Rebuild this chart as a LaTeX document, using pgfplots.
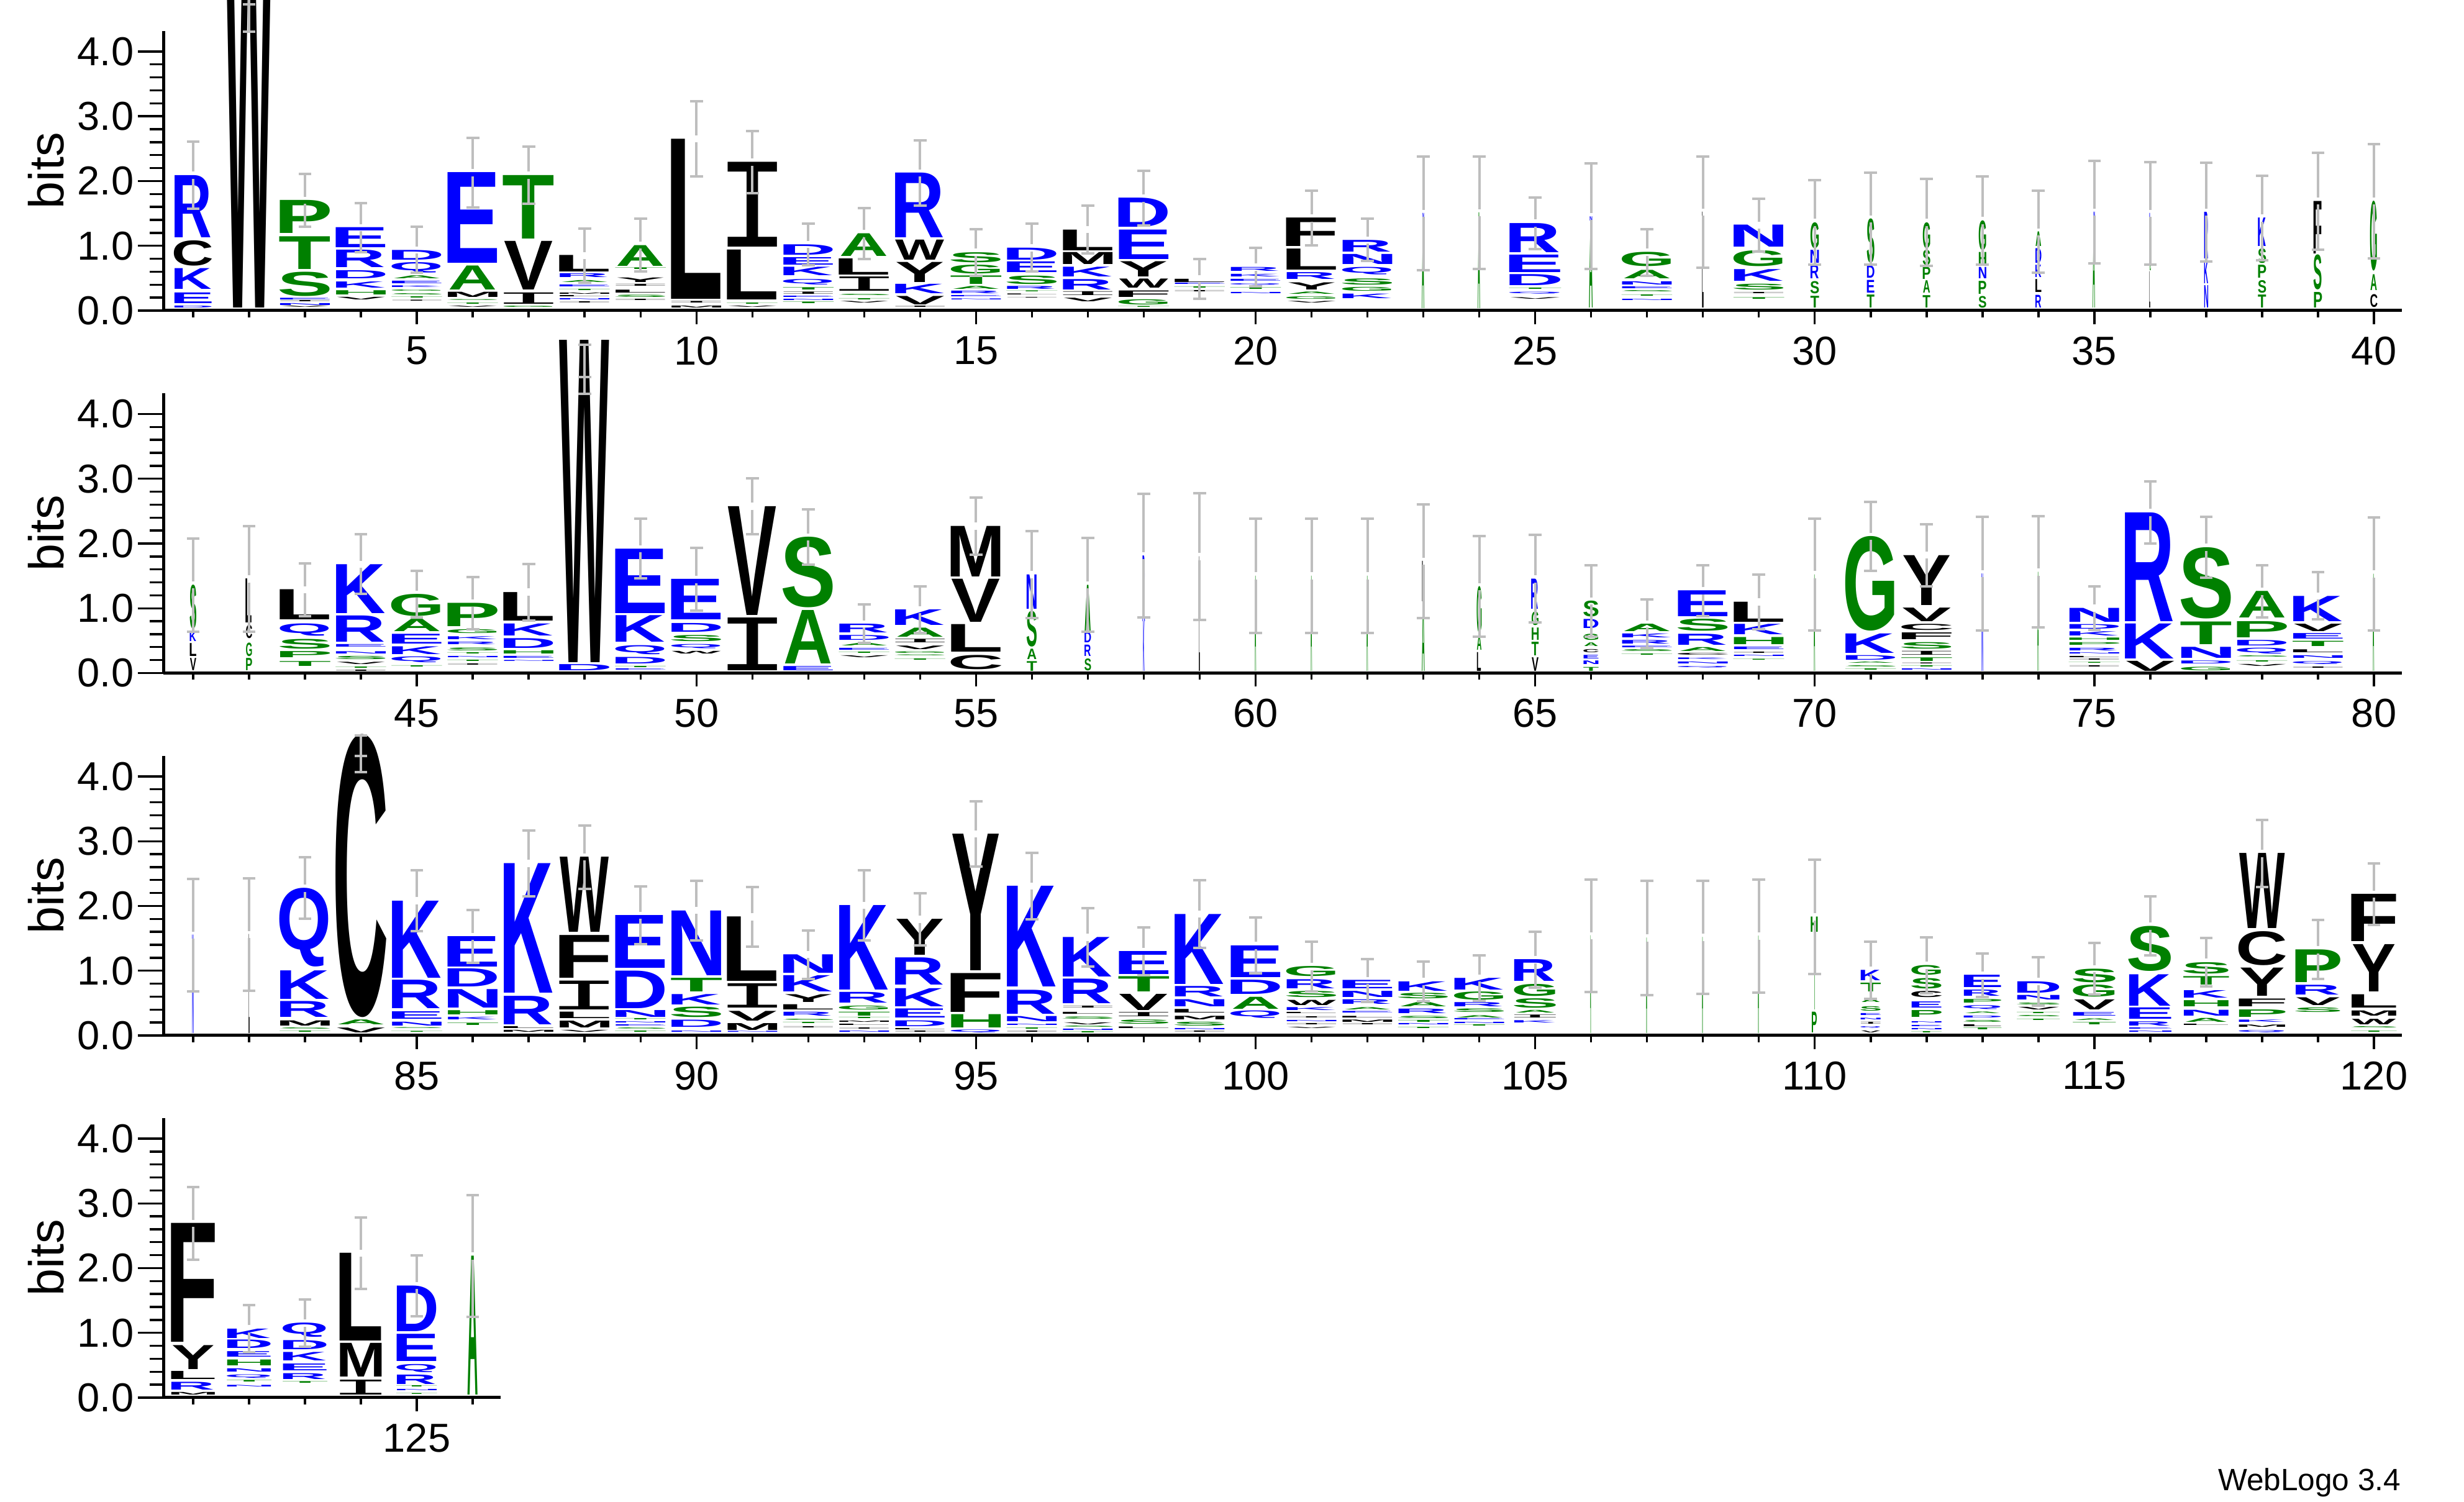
\documentclass[border=0pt]{standalone}
\usepackage{graphicx}
\usepackage{fontspec}
\setmainfont{Liberation Sans}
\newfontfamily\ifont{Liberation Mono}
\usepackage{pgfplots}
\usepackage{pgfplotstable}
\pgfplotsset{compat=1.18}
\definecolor{lblue}{RGB}{0,0,255}
\definecolor{lgreen}{RGB}{0,128,0}
\definecolor{lblack}{RGB}{0,0,0}
\definecolor{errgray}{RGB}{190,190,190}
\newcommand\defL[5][\bfseries]{\expandafter\def\csname lf@#2\endcsname{#1}\expandafter\def\csname lc@#2\endcsname{#3}\expandafter\def\csname ll@#2\endcsname{#4}\expandafter\def\csname lr@#2\endcsname{#5}}
\defL{A}{lgreen}{0}{0}\defL{C}{lblack}{.05}{.04}\defL{D}{lblue}{.07}{.04}\defL{E}{lblue}{.07}{.04}
\defL{F}{lblack}{.07}{.04}\defL{G}{lgreen}{.05}{.05}\defL{H}{lgreen}{.07}{.07}\defL[\ifont]{I}{lblack}{.1}{.1}
\defL{K}{lblue}{.07}{0}\defL{L}{lblack}{.07}{.03}\defL{M}{lblack}{.07}{.07}\defL{N}{lblue}{.07}{.07}
\defL{P}{lgreen}{.07}{.04}\defL{Q}{lblue}{.05}{.03}\defL{R}{lblue}{.07}{0}\defL{S}{lgreen}{.04}{.04}
\defL{T}{lgreen}{.02}{.02}\defL{V}{lblack}{0}{0}\defL{W}{lblack}{0}{0}\defL{Y}{lblack}{0}{0}
\newcommand\logoL[3]{\pgfmathsetlengthmacro\lw{#2*19.75pt}\pgfmathsetlengthmacro\lh{#3*26.06pt}%
\textcolor{\csname lc@#1\endcsname}{\resizebox*{\lw}{\lh}{\csname lf@#1\endcsname\kern-\csname ll@#1\endcsname em #1\kern-\csname lr@#1\endcsname em}}}
\pgfplotsset{logorow/.style={
 set layers=standard,
 scale only axis, width=#1, height=112.6pt, anchor=south west, clip=false,
 ymin=0, ymax=4.32, ytick={0,1,2,3,4}, minor y tick num=4,
 axis y line*=left, axis x line*=bottom, axis line style={-,line width=1.25pt},
 tick align=outside, major tick length=5.5pt, minor tick length=2.75pt,
 major y tick style={black,line width=.85pt,/pgfplots/major tick length=10.25pt},
 minor y tick style={black,line width=.85pt,/pgfplots/minor tick length=5.5pt},
 major x tick style={black,line width=.85pt},
 minor x tick style={black,line width=.85pt},
 y tick label style={/pgf/number format/.cd,fixed,fixed zerofill,precision=1,assume math mode=true,/tikz/.cd,font=\fontsize{16.25}{16.25}\selectfont,inner sep=0pt,xshift=-6.25pt},
 x tick label style={/pgf/number format/assume math mode=true,font=\fontsize{16.25}{16.25}\selectfont,inner sep=0pt,yshift=-4.75pt},
 ylabel={bits},
 every axis y label/.style={at={(axis description cs:0,0.5)},xshift=-40.25pt,rotate=90,anchor=base,font=\fontsize{19.75}{19.75}\selectfont},
},
barline/.style={on layer=axis foreground,draw=none,mark=none,forget plot,error bars/.cd,y dir=#1,y explicit,error mark=none,
  error bar style={color=errgray,line width=1pt}},
barcap/.style={on layer=axis foreground,only marks,mark=-,mark size=2.6pt,color=errgray,forget plot,mark options={color=errgray,line width=1pt}}}
\pgfplotsset{xticks/.style={}}
\newcommand\drawlogo[3]{%
 \addplot[only marks,mark=none,point meta=explicit symbolic,
  visualization depends on={\thisrow{w} \as \ww},
  visualization depends on={\thisrow{t}-\thisrow{b} \as \hh},
  nodes near coords={\logoL{\pgfplotspointmeta}{\ww}{\hh}},
  every node near coord/.append style={inner sep=0pt,outer sep=0pt}]
  table[x=x,y=b,meta=l]{#1};
 \addplot[barline=plus] table[x=x,y expr=\thisrow{c}+0.055,y error expr=\thisrow{e}-0.055]{#2};
 \addplot[barline=minus] table[x=x,y expr=\thisrow{c}-0.055,y error expr=\thisrow{e}-0.055]{#2};
 \addplot[barcap] table[x=x,y expr=\thisrow{c}+\thisrow{e}]{#2};
 \addplot[barcap] table[x=x,y expr=\thisrow{c}-\thisrow{e}]{#2};
 \addplot[barline=both] table[x=x,y=c,y error=e]{#3};
 \addplot[barcap] table[x=x,y expr=\thisrow{c}+\thisrow{e}]{#3};
 \addplot[barcap] table[x=x,y expr=\thisrow{c}-\thisrow{e}]{#3};
}
\pgfplotstableread{
x w b t l
1 .75 .04 .07 D
1 .75 .11 .275 E
1 .75 .33 .65 K
1 .75 .69 1.08 C
1 .75 1.13 2.09 R
2 1.02 .04 7.4 W
3 1 .04 .06 V
3 1 .08 .11 N
3 1 .125 .145 I
3 1 .165 .19 E
3 1 .22 .595 S
3 1 .635 1.14 T
3 1 1.19 1.7 P
4 1 .17 .21 V
4 1 .245 .31 H
4 1 .345 .44 K
4 1 .495 .62 D
4 1 .665 .935 R
4 1 .97 1.28 E
5 1 .14 .155 I
5 1 .185 .205 T
5 1 .235 .255 S
5 1 .29 .31 G
5 1 .35 .375 K
5 1 .42 .46 E
5 1 .495 .54 A
5 1 .58 .74 Q
5 1 .785 .935 D
6 1 .04 .06 V
6 1 .095 .115 T
6 1 .15 .165 S
6 1 .21 .29 M
6 1 .32 .69 A
6 1 .73 2.13 E
7 1 .04 .06 G
7 1 .1 .275 I
7 1 .32 1.07 V
7 1 1.11 2.09 T
8 1 .11 .13 I
8 1 .155 .175 N
8 1 .205 .225 L
8 1 .24 .26 M
8 1 .3 .32 T
8 1 .365 .395 E
8 1 .435 .465 A
8 1 .51 .57 R
8 1 .595 .85 L
9 1 .145 .165 I
9 1 .2 .235 S
9 1 .275 .32 L
9 1 .37 .4 I
9 1 .44 .51 Y
9 1 .635 .66 T
9 1 .69 1.01 A
10 1 .04 .07 M
10 1 .11 .135 I
10 1 .18 2.65 L
11 1 .04 .06 V
11 1 .095 .115 T
11 1 .165 .935 L
11 1 .98 2.29 I
12 1 .1 .125 T
12 1 .145 .165 N
12 1 .195 .215 E
12 1 .25 .285 I
12 1 .32 .355 T
12 1 .4 .485 Q
12 1 .54 .67 K
12 1 .705 .82 E
12 1 .86 1.02 D
13 1 .11 .135 V
13 1 .16 .18 T
13 1 .225 .245 S
13 1 .3 .52 I
13 1 .555 .805 L
13 1 .84 1.19 A
14 1 .04 .06 I
14 1 .095 .225 V
14 1 .26 .405 K
14 1 .44 .75 Y
14 1 .785 1.095 W
14 1 1.125 2.125 R
15 1 .16 .175 N
15 1 .21 .23 E
15 1 .26 .3 R
15 1 .33 .375 A
15 1 .405 .535 T
15 1 .57 .705 G
15 1 .745 .9 S
16 1 .18 .19 I
16 1 .235 .25 L
16 1 .285 .3 T
16 1 .33 .375 R
16 1 .405 .535 S
16 1 .585 .75 E
16 1 .785 .97 D
17 1 .135 .19 V
17 1 .23 .29 I
17 1 .325 .485 R
17 1 .52 .67 K
17 1 .71 .895 M
17 1 .93 1.25 L
18 1 .04 .055 T
18 1 .085 .165 G
18 1 .21 .31 F
18 1 .345 .485 W
18 1 .525 .76 Y
18 1 .795 1.25 E
18 1 1.285 1.735 D
19 1 .28 .3 I
19 1 .34 .36 T
19 1 .395 .415 E
19 1 .44 .49 L
20 1 .255 .275 N
20 1 .325 .35 T
20 1 .385 .41 Q
20 1 .455 .485 E
20 1 .52 .56 K
20 1 .61 .67 R
21 1 .11 .135 V
21 1 .175 .215 G
21 1 .25 .285 A
21 1 .32 .43 Y
21 1 .48 .585 R
21 1 .625 .95 L
21 1 .99 1.43 F
22 1 .185 .255 K
22 1 .3 .36 G
22 1 .4 .495 S
22 1 .555 .67 Q
22 1 .715 .87 N
22 1 .91 1.09 R
23 .05 .03 1.4 A
23 .03 1.42 1.5 N
24 .05 .03 1.51 A
25 1.03 .175 .2 V
25 1.03 .25 .28 Q
25 1.03 .32 .34 T
25 1.03 .385 .555 D
25 1.03 .59 .86 E
25 1.03 .9 1.35 R
26 .08 .04 1.36 A
26 .05 1.39 1.455 N
27 1 .15 .17 N
27 1 .215 .235 T
27 1 .285 .305 S
27 1 .34 .37 E
27 1 .4 .45 N
27 1 .495 .625 A
27 1 .68 .9 G
28 .03 .04 1.52 L
29 1 .175 .2 T
29 1 .255 .275 I
29 1 .32 .41 S
29 1 .455 .635 K
29 1 .68 .925 G
29 1 .98 1.32 N
30 .17 .04 .22 T
30 .17 .26 .45 S
30 .17 .49 .7 R
30 .17 .73 .93 N
30 .17 .96 1.36 G
31 .15 .04 .24 T
31 .15 .27 .465 E
31 .15 .5 .69 D
31 .15 .73 1.415 S
32 .15 .04 .23 T
32 .15 .27 .46 A
32 .15 .485 .67 P
32 .15 .7 .93 S
32 .15 .96 1.36 G
33 .15 .04 .22 S
33 .15 .255 .455 P
33 .15 .495 .67 N
33 .15 .7 .895 H
33 .15 .93 1.39 G
34 .12 .04 .235 R
34 .12 .28 .48 L
34 .12 .51 .7 K
34 .12 .735 .96 D
34 .12 .99 1.215 A
35 .05 .04 1.42 A
35 .03 1.44 1.52 N
36 .02 .04 .6 L
36 .03 .62 .7 G
36 .02 .72 1.5 N
37 .08 .04 .385 N
37 .08 .415 .77 K
37 .08 .8 1.52 R
38 .16 .04 .24 T
38 .16 .27 .465 S
38 .16 .5 .7 P
38 .16 .735 .96 S
38 .16 .99 1.43 K
39 .16 .04 .28 P
39 .16 .32 .86 S
39 .16 .88 1.69 F
40 .14 .05 .25 C
40 .14 .31 .555 A
40 .14 .61 1.69 G
}\rowa
\pgfplotstableread{
x c e
1 2.09 .52
3 1.7 .41
4 1.28 .38
5 .935 .355
6 2.13 .54
7 2.09 .44
8 .85 .42
9 1.01 .41
10 2.65 .58
11 2.29 .48
12 1.02 .32
13 1.19 .39
14 2.125 .505
15 .9 .36
16 .97 .37
17 1.25 .37
18 1.735 .425
19 .49 .31
20 .67 .295
21 1.43 .42
22 1.09 .325
23 1.5 .875
24 1.51 .87
25 1.35 .4
26 1.455 .815
27 .9 .36
28 1.52 .86
29 1.32 .405
30 1.36 .65
31 1.415 .71
32 1.36 .67
33 1.39 .68
34 1.215 .635
35 1.52 .79
36 1.5 .79
37 1.52 .76
38 1.43 .65
39 1.69 .75
40 1.69 .88
}\erra
\pgfplotstableread{
x c e
2 4.52 .21
2 4.8 .07
}\plaina
\pgfplotstableread{
x w b t l
41 .13 .035 .225 V
41 .13 .26 .46 L
41 .13 .49 .64 K
41 .13 .68 1.36 S
42 .12 .035 .225 P
42 .12 .26 .47 G
42 .12 .53 .735 C
42 .12 .775 1.455 L
43 1 .11 .185 T
43 1 .24 .335 P
43 1 .375 .525 S
43 1 .575 .765 Q
43 1 .82 1.285 L
44 1 .02 .04 I
44 1 .07 .09 T
44 1 .13 .165 V
44 1 .21 .26 S
44 1 .3 .335 N
44 1 .4 .44 E
44 1 .48 .885 R
44 1 .925 1.68 K
45 1 .09 .11 T
45 1 .165 .255 Q
45 1 .29 .41 K
45 1 .45 .6 E
45 1 .64 .83 A
45 1 .88 1.22 G
46 1 .12 .14 I
46 1 .175 .195 T
46 1 .23 .25 N
46 1 .29 .31 T
46 1 .345 .39 S
46 1 .44 .48 R
46 1 .52 .565 K
46 1 .61 .67 G
46 1 .72 1.08 P
47 1 .175 .19 N
47 1 .23 .26 E
47 1 .295 .345 H
47 1 .385 .535 D
47 1 .575 .76 K
47 1 .81 1.25 L
48 1.02 .035 .13 D
48 1.02 .165 5.14 W
49 1 .035 .055 E
49 1 .08 .1 T
49 1 .14 .24 D
49 1 .29 .43 Q
49 1 .48 .89 K
49 1 .925 1.92 E
50 1 .3 .34 W
50 1 .375 .44 Q
50 1 .49 .585 S
50 1 .63 .765 D
50 1 .82 1.445 E
51 1 .035 .85 I
51 1 .895 2.575 V
52 1 .035 .1 E
52 1 .145 .97 A
52 1 1.01 2.1 S
53 1 .24 .27 V
53 1 .3 .32 T
53 1 .35 .38 E
53 1 .42 .46 A
53 1 .505 .58 D
53 1 .625 .76 R
54 1 .19 .21 T
54 1 .255 .27 S
54 1 .295 .32 G
54 1 .36 .415 V
54 1 .465 .52 I
54 1 .56 .7 A
54 1 .74 .98 K
55 1 .05 .27 C
55 1 .325 .75 L
55 1 .79 1.455 V
55 1 1.49 2.27 M
56 .2 .03 .18 T
56 .2 .215 .375 A
56 .2 .405 .955 S
56 .2 .99 1.52 N
57 .13 .04 .225 S
57 .13 .255 .43 R
57 .13 .465 .625 D
57 .13 .655 1.36 A
58 .03 .03 .8 K
58 .05 .8 1.815 R
59 .02 .03 1.8 L
60 .03 .03 1.5 A
61 .03 .03 1.5 A
62 .03 .03 1.5 A
63 .06 .03 1.08 A
63 .05 1.1 1.725 L
64 .08 .03 .32 L
64 .1 .35 .575 A
64 .1 .61 1.335 G
65 .14 .03 .24 V
65 .14 .27 .48 T
65 .14 .51 .7 H
65 .14 .735 .945 G
65 .14 .99 1.455 R
66 .3 .03 .09 T
66 .3 .13 .185 N
66 .3 .225 .28 E
66 .3 .32 .37 C
66 .3 .41 .465 A
66 .3 .505 .6 G
66 .3 .69 .83 D
66 .3 .865 1.11 S
67 1 .27 .29 T
67 1 .33 .36 S
67 1 .385 .41 E
67 1 .455 .51 R
67 1 .55 .61 K
67 1 .645 .76 A
68 1 .07 .095 Q
68 1 .135 .165 N
68 1 .205 .23 K
68 1 .27 .3 C
68 1 .34 .4 A
68 1 .43 .6 R
68 1 .645 .83 S
68 1 .87 1.27 E
69 1 .185 .2 T
69 1 .245 .265 N
69 1 .3 .32 I
69 1 .36 .4 E
69 1 .44 .55 H
69 1 .59 .75 K
69 1 .79 1.1 L
70 .03 .03 1.52 A
71 1 .04 .06 T
71 1 .09 .11 S
71 1 .145 .165 A
71 1 .2 .27 D
71 1 .31 .61 K
71 1 .65 2.11 G
72 1 .04 .06 N
72 1 .09 .11 T
72 1 .135 .15 I
72 1 .185 .24 T
72 1 .28 .34 I
72 1 .375 .475 S
72 1 .52 .625 F
72 1 .665 .76 C
72 1 .8 1.01 V
72 1 1.05 1.82 Y
73 .03 .03 1.535 N
74 .03 .03 1.56 A
75 1 .085 .105 I
75 1 .14 .155 T
75 1 .19 .21 I
75 1 .235 .255 L
75 1 .29 .31 N
75 1 .345 .385 R
75 1 .43 .47 P
75 1 .505 .54 H
75 1 .58 .645 K
75 1 .68 .75 D
75 1 .785 1 N
76 1 .03 .185 V
76 1 .225 .765 K
76 1 .8 2.48 R
77 1 .04 .095 G
77 1 .145 .19 D
77 1 .23 .4 N
77 1 .44 .79 T
77 1 .84 1.94 S
78 1 .1 .13 V
78 1 .165 .185 T
78 1 .235 .255 S
78 1 .295 .385 Q
78 1 .42 .505 D
78 1 .55 .8 P
78 1 .85 1.26 A
79 1 .07 .09 I
79 1 .13 .175 Q
79 1 .23 .27 N
79 1 .315 .36 L
79 1 .41 .49 T
79 1 .53 .615 E
79 1 .645 .76 V
79 1 .8 1.19 K
80 .03 .03 1.53 A
}\rowb
\pgfplotstableread{
x c e
41 1.36 .72
42 1.455 .815
43 1.285 .41
44 1.68 .46
45 1.22 .36
46 1.08 .405
47 1.25 .435
49 1.92 .46
50 1.445 .485
51 2.575 .435
52 2.1 .43
53 .76 .295
54 .98 .36
55 2.27 .44
56 1.52 .67
57 1.36 .725
58 1.815 .955
59 1.8 .98
60 1.5 .88
61 1.5 .88
62 1.5 .88
63 1.725 .875
64 1.335 .775
65 1.455 .675
66 1.11 .55
67 .76 .375
68 1.27 .39
69 1.1 .42
70 1.52 .86
71 2.11 .53
72 1.82 .48
73 1.535 .875
74 1.56 .86
75 1 .335
76 2.48 .48
77 1.94 .47
78 1.26 .4
79 1.19 .365
80 1.53 .87
}\errb
\pgfplotstableread{
x c e
48 4.44 .13
48 4.82 .25
}\plainb
\pgfplotstableread{
x w b t l
81 .03 .03 1.55 N
82 .02 .03 1.56 L
83 1 .045 .065 T
83 1 .09 .11 S
83 1 .15 .23 M
83 1 .28 .525 R
83 1 .56 1 K
83 1 1.06 2.275 Q
84 1 .04 .115 V
84 1 .165 .24 A
84 1 .285 4.655 C
85 1 .04 .055 T
85 1 .095 .11 S
85 1 .15 .21 N
85 1 .25 .365 E
85 1 .415 .855 R
85 1 .89 2.08 K
86 1 .16 .195 T
86 1 .24 .28 K
86 1 .325 .39 H
86 1 .43 .715 N
86 1 .75 1.03 D
86 1 1.06 1.53 E
87 1 .05 .08 M
87 1 .105 .135 L
87 1 .17 .61 R
87 1 .655 2.655 K
88 1 .05 .08 V
88 1 .12 .225 M
88 1 .26 .36 L
88 1 .395 .84 I
88 1 .885 1.545 F
88 1 1.595 2.755 W
89 1 .045 .065 T
89 1 .09 .11 S
89 1 .14 .16 E
89 1 .185 .205 N
89 1 .235 .255 T
89 1 .28 .385 N
89 1 .42 1 D
89 1 1.04 1.855 E
90 1 .045 .065 N
90 1 .13 .24 D
90 1 .285 .445 S
90 1 .475 .635 K
90 1 .68 .89 T
90 1 .93 1.93 N
91 1 .04 .055 N
91 1 .085 .19 M
91 1 .23 .38 V
91 1 .425 .8 I
91 1 .835 1.83 L
92 1 .11 .13 I
92 1 .175 .195 T
92 1 .23 .25 S
92 1 .3 .36 R
92 1 .395 .475 L
92 1 .515 .635 Y
92 1 .68 .93 K
92 1 .965 1.25 N
93 1 .04 .06 N
93 1 .095 .115 I
93 1 .145 .165 L
93 1 .195 .215 M
93 1 .25 .27 T
93 1 .3 .36 T
93 1 .4 .46 G
93 1 .5 .665 R
93 1 .705 2.01 K
94 1 .04 .06 I
94 1 .08 .1 L
94 1 .135 .225 D
94 1 .27 .41 E
94 1 .45 .73 K
94 1 .78 1.2 R
94 1 1.24 1.795 Y
95 1 .04 .085 Q
95 1 .115 .32 H
95 1 .355 .955 F
95 1 1 3.11 Y
96 1 .04 .06 I
96 1 .095 .115 T
96 1 .15 .17 N
96 1 .22 .3 N
96 1 .335 .705 R
96 1 .75 2.305 K
97 1 .035 .055 T
97 1 .075 .095 N
97 1 .12 .14 S
97 1 .165 .195 V
97 1 .25 .285 S
97 1 .33 .36 L
97 1 .42 .45 I
97 1 .49 .87 R
97 1 .905 1.515 K
98 1 .105 .13 L
98 1 .18 .245 S
98 1 .29 .355 I
98 1 .385 .635 V
98 1 .675 .91 T
98 1 .945 1.3 E
99 1 .04 .06 I
99 1 .085 .105 N
99 1 .145 .205 S
99 1 .245 .3 M
99 1 .35 .405 L
99 1 .445 .555 N
99 1 .595 .755 R
99 1 .795 1.875 K
100 1 .265 .38 Q
100 1 .41 .595 A
100 1 .635 .855 D
100 1 .9 1.39 E
101 1 .105 .125 V
101 1 .16 .18 I
101 1 .21 .23 N
101 1 .265 .285 I
101 1 .33 .35 L
101 1 .385 .43 K
101 1 .465 .545 W
101 1 .585 .68 S
101 1 .72 .86 R
101 1 .91 1.065 G
102 1 .155 .175 I
102 1 .2 .235 M
102 1 .27 .295 L
102 1 .34 .365 E
102 1 .395 .43 A
102 1 .485 .555 R
102 1 .585 .68 N
102 1 .72 .85 E
103 1 .105 .125 T
103 1 .16 .18 N
103 1 .2 .23 T
103 1 .265 .3 S
103 1 .34 .41 R
103 1 .445 .515 A
103 1 .565 .65 S
103 1 .69 .835 K
104 1 .135 .155 T
104 1 .175 .195 N
104 1 .235 .255 E
104 1 .275 .31 A
104 1 .355 .41 S
104 1 .45 .515 R
104 1 .545 .67 G
104 1 .705 .885 K
105 .84 .195 .23 K
105 .84 .27 .315 I
105 .84 .35 .39 A
105 .84 .42 .565 S
105 .84 .61 .795 G
105 .84 .835 1.17 R
106 .02 .03 1.54 A
107 .025 .03 1.505 A
108 .025 .03 1.515 A
109 .025 .03 1.535 A
110 .1 .045 .365 P
110 .03 .4 1.56 T
110 .14 1.595 1.83 H
111 .4 .04 .07 V
111 .4 .105 .13 Q
111 .4 .17 .2 I
111 .4 .24 .265 N
111 .4 .305 .335 E
111 .4 .38 .45 S
111 .4 .51 .56 A
111 .4 .675 .81 T
111 .4 .845 1.005 K
112 .6 .035 .055 T
112 .6 .085 .105 N
112 .6 .13 .15 E
112 .6 .185 .205 N
112 .6 .285 .39 P
112 .6 .425 .52 E
112 .6 .585 .68 C
112 .6 .725 .885 S
112 .6 .935 1.085 G
113 .75 .085 .115 T
113 .75 .135 .165 L
113 .75 .2 .23 S
113 .75 .27 .3 D
113 .75 .335 .36 A
113 .75 .4 .46 Q
113 .75 .5 .555 P
113 .75 .605 .7 R
113 .75 .74 .93 E
114 .85 .225 .245 T
114 .85 .28 .3 S
114 .85 .335 .355 T
114 .85 .395 .435 V
114 .85 .47 .5 S
114 .85 .555 .625 N
114 .85 .66 .835 D
115 .85 .17 .205 T
115 .85 .225 .25 A
115 .85 .3 .355 E
115 .85 .395 .55 V
115 .85 .595 .78 G
115 .85 .82 1.03 S
116 .85 .04 .06 N
116 .85 .095 .115 E
116 .85 .145 .21 R
116 .85 .25 .425 E
116 .85 .46 .945 K
116 .85 .995 1.69 S
117 .9 .15 .17 L
117 .9 .21 .27 A
117 .9 .305 .395 N
117 .9 .445 .54 H
117 .9 .58 .695 K
117 .9 .785 .915 T
117 .9 .955 1.13 S
118 .93 .04 .075 Q
118 .93 .125 .16 M
118 .93 .2 .235 K
118 .93 .285 .4 P
118 .93 .445 .565 F
118 .93 .605 1.04 Y
118 .93 1.085 1.61 C
118 .93 1.65 2.81 W
119 .9 .36 .43 S
119 .9 .465 .585 V
119 .9 .625 .775 R
119 .9 .82 1.325 P
120 .9 .045 .065 T
120 .9 .11 .13 S
120 .9 .165 .25 W
120 .9 .3 .38 M
120 .9 .425 .63 L
120 .9 .68 1.41 Y
120 .9 1.45 2.18 F
}\rowc
\pgfplotstableread{
x c e
81 1.55 .87
82 1.56 .87
83 2.275 .475
85 2.08 .47
86 1.53 .405
87 2.655 .51
88 2.755 .49
89 1.855 .445
90 1.93 .46
91 1.83 .46
92 1.25 .375
93 2.01 .54
94 1.795 .4
95 3.11 .505
96 2.305 .51
97 1.515 .45
98 1.3 .365
99 1.875 .52
100 1.39 .43
101 1.065 .385
102 .85 .33
103 .835 .305
104 .885 .35
105 1.17 .43
106 1.54 .865
107 1.505 .88
108 1.515 .87
109 1.535 .87
110 1.83 .88
111 1.005 .44
112 1.085 .435
113 .93 .34
114 .835 .37
115 1.03 .395
116 1.69 .455
117 1.13 .375
118 2.81 .52
119 1.325 .455
120 2.18 .475
}\errc
\pgfplotstableread{
x c e
84 4.195 .125
84 4.475 .155
}\plainc
\pgfplotstableread{
x w b t l
121 .88 .04 .08 M
121 .88 .12 .24 R
121 .88 .28 .405 L
121 .88 .44 .81 Y
121 .88 .855 2.69 F
122 .88 .165 .19 N
122 .88 .235 .26 T
122 .88 .3 .355 Q
122 .88 .4 .45 N
122 .88 .49 .58 H
122 .88 .625 .71 E
122 .88 .76 .89 D
122 .88 .92 1.065 K
123 .88 .215 .24 T
123 .88 .285 .375 R
123 .88 .42 .525 E
123 .88 .57 .7 K
123 .88 .745 .885 D
123 .88 .93 1.15 Q
124 .84 .04 .27 I
124 .84 .32 .84 M
124 .84 .875 2.23 L
125 .8 .04 .055 T
125 .8 .1 .12 N
125 .8 .155 .175 T
125 .8 .21 .355 R
125 .8 .39 .515 Q
125 .8 .56 .98 E
125 .8 1.025 1.73 D
126 .22 .04 2.185 A
}\rowd
\pgfplotstableread{
x c e
121 2.69 .56
122 1.065 .365
123 1.15 .365
124 2.23 .55
125 1.73 .47
126 2.185 .94
}\errd
\begin{document}
\begin{tikzpicture}
\begin{axis}[logorow=901pt,at={(65.75pt,479.25pt)},xmin=0.467,xmax=40.5,xticks,
 xtick={5,10,...,40},minor xtick={1,...,40}]
\drawlogo{\rowa}{\erra}{\plaina}
\end{axis}
\begin{axis}[logorow=901pt,at={(65.75pt,333.375pt)},xmin=40.467,xmax=80.5,xticks,
 xtick={45,50,...,80},minor xtick={41,...,80}]
\drawlogo{\rowb}{\errb}{\plainb}
\end{axis}
\begin{axis}[logorow=901pt,at={(65.75pt,187.5pt)},xmin=80.467,xmax=120.5,xticks,
 xtick={85,90,...,120},minor xtick={81,...,120}]
\drawlogo{\rowc}{\errc}{\plainc}
\end{axis}
\begin{axis}[logorow=135.75pt,at={(65.75pt,41.75pt)},xmin=120.467,xmax=126.5,xticks,
 xtick={125},minor xtick={121,...,126}]
\addplot[only marks,mark=none,point meta=explicit symbolic,
  visualization depends on={\thisrow{w} \as \ww},
  visualization depends on={\thisrow{t}-\thisrow{b} \as \hh},
  nodes near coords={\logoL{\pgfplotspointmeta}{\ww}{\hh}},
  every node near coord/.append style={inner sep=0pt,outer sep=0pt}]
  table[x=x,y=b,meta=l]{\rowd};
\addplot[barline=plus] table[x=x,y expr=\thisrow{c}+0.055,y error expr=\thisrow{e}-0.055]{\errd};
\addplot[barline=minus] table[x=x,y expr=\thisrow{c}-0.055,y error expr=\thisrow{e}-0.055]{\errd};
\addplot[barcap] table[x=x,y expr=\thisrow{c}+\thisrow{e}]{\errd};
\addplot[barcap] table[x=x,y expr=\thisrow{c}-\thisrow{e}]{\errd};
\end{axis}
\node[anchor=base east,inner sep=0pt,font=\fontsize{12.4}{12.4}\selectfont] at (966.5pt,4.5pt) {WebLogo 3.4};
\pgfresetboundingbox
\path[use as bounding box] (0pt,0pt) rectangle (991.75pt,604.25pt);
\end{tikzpicture}
\end{document}
